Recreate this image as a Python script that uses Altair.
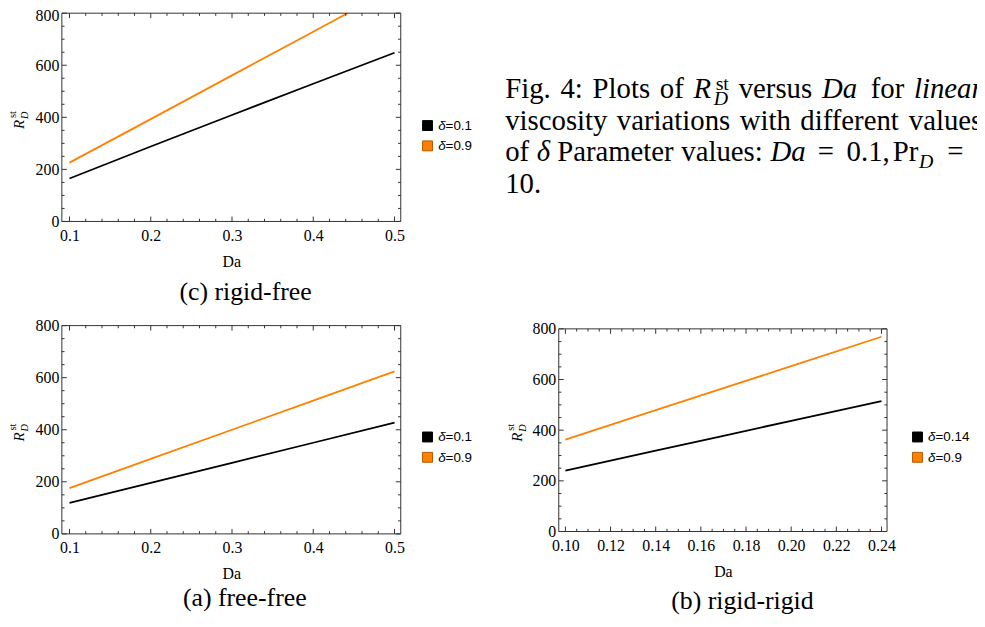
import altair as alt
import pandas as pd

# ---------------- data ----------------
c_da_black = [0.1, 0.2, 0.3, 0.4, 0.5]
c_black = [165, 288, 409, 529, 648]
c_da_orange = [0.1, 0.2, 0.3, 0.4, 0.442]
c_orange = [226, 393, 561, 729, 800]

a_da = [0.1, 0.2, 0.3, 0.4, 0.5]
a_black = [119, 196, 273, 350, 427]
a_orange = [176, 288, 400, 512, 624]

b_da = [0.10, 0.14, 0.17, 0.20, 0.24]
b_black = [240, 319, 378, 437, 515]
b_orange = [363, 479, 566, 653, 769]

x_major_ca = [0.1, 0.2, 0.3, 0.4, 0.5]
x_minor_ca = [0.12, 0.14, 0.16, 0.18, 0.22, 0.24, 0.26, 0.28, 0.32, 0.34, 0.36, 0.38,
              0.42, 0.44, 0.46, 0.48]
x_major_b = [0.10, 0.12, 0.14, 0.16, 0.18, 0.20, 0.22, 0.24]
x_minor_b = [0.105, 0.11, 0.115, 0.125, 0.13, 0.135, 0.145, 0.15, 0.155, 0.165, 0.17, 0.175,
             0.185, 0.19, 0.195, 0.205, 0.21, 0.215, 0.225, 0.23, 0.235]
y_major = [0, 200, 400, 600, 800]
y_minor = [50, 100, 150, 250, 300, 350, 450, 500, 550, 650, 700, 750]

legend_c = ["\u03b4", "=0.1", "=0.9"]
legend_a = ["\u03b4", "=0.1", "=0.9"]
legend_b = ["\u03b4", "=0.14", "=0.9"]

# ---------------- style ----------------
SERIF = "Liberation Serif"
SANS = "Liberation Sans"
FRAME = "#333333"
BLACK = "#000000"
ORANGE = "#ff8000"
W, H = 977, 611
O = 8  # page margin
CAP = 29
SUB = 20


def dom_from(p_lo, p_hi, v1, p1, v2, p2):
    k = (v2 - v1) / (p2 - p1)
    return [v1 + (p_lo - p1) * k, v1 + (p_hi - p1) * k]


panels = [
    dict(name="c", frame=(62.3, 404.0, 10.7, 220.7), ref=(0.1, 70.0, 0.5, 397.7),
         series=[(c_da_black, c_black), (c_da_orange, c_orange)],
         xmaj=x_major_ca, xmin=x_minor_ca, fmt=".1f", top_split=True),
    dict(name="a", frame=(62.3, 404.0, 325.7, 535.7), ref=(0.1, 70.0, 0.5, 397.7),
         series=[(a_da, a_black), (a_da, a_orange)],
         xmaj=x_major_ca, xmin=x_minor_ca, fmt=".1f", top_split=False),
    dict(name="b", frame=(563.3, 894.3, 329.0, 533.3), ref=(0.10, 570.0, 0.24, 888.7),
         series=[(b_da, b_black), (b_da, b_orange)],
         xmaj=x_major_b, xmin=x_minor_b, fmt=".2f", top_split=False),
]


def text(t, x, y, size=16, font=SERIF, style="normal", align="left",
         baseline="alphabetic", angle=0, color="black"):
    return alt.Chart(pd.DataFrame({"t": [t]})).mark_text(
        align=align, baseline=baseline, font=font, fontSize=size,
        fontStyle=style, angle=angle, color=color
    ).encode(text="t:N", x=alt.value(x - O), y=alt.value(y - O))


def box(x0, y0, x1, y1, fill, stroke):
    return alt.Chart(pd.DataFrame({"k": [0]})).mark_rect(
        fill=fill, stroke=stroke, strokeWidth=1
    ).encode(x=alt.value(x0 - O), x2=alt.value(x1 - O),
             y=alt.value(y0 - O), y2=alt.value(y1 - O))


AX = dict(grid=False, domain=False, ticks=False, tickSize=0,
          labelFont=SERIF, labelFontSize=16, labelColor="black",
          labelFlush=False, labelOverlap=False)

layers = []
for p in panels:
    fl, fr, ft, fb = [v - O for v in p["frame"]]
    v1, p1, v2, p2 = p["ref"]
    xdom = dom_from(p["frame"][0], p["frame"][1], v1, p1, v2, p2)
    xs = alt.Scale(domain=xdom, range=[fl, fr], nice=False, zero=False)
    ys = alt.Scale(domain=[0, 800], range=[fb, ft], nice=False, zero=False)

    rows = []
    for k, (xs_, ys_) in zip(["lo", "hi"], p["series"]):
        for xv, yv in zip(xs_, ys_):
            rows.append({"Da": xv, "R": yv, "k": k})
    df = pd.DataFrame(rows)

    xaxis = alt.Axis(orient="bottom", offset=fb - H, values=p["xmaj"], format=p["fmt"],
                     labelPadding=6, title="Da", titleFont=SERIF, titleFontSize=16,
                     titleFontWeight="normal", titleColor="black", titlePadding=10, **AX)
    yvals = y_major[:-1] if p["top_split"] else y_major
    yaxis = alt.Axis(orient="left", offset=-fl, values=yvals, format="d",
                     labelPadding=3, title=None, **AX)

    lines = alt.Chart(df).mark_line(strokeWidth=1.8).encode(
        x=alt.X("Da:Q", scale=xs, axis=xaxis),
        y=alt.Y("R:Q", scale=ys, axis=yaxis),
        color=alt.Color("k:N", scale=alt.Scale(domain=["lo", "hi"], range=[BLACK, ORANGE]),
                        legend=None),
    )
    layers.append(lines)

    if p["top_split"]:
        yaxis_top = alt.Axis(orient="left", offset=-fl, values=[800], format="d",
                             labelPadding=3, labelBaseline="top", labelOffset=-5.5,
                             title=None, **AX)
    else:
        yaxis_top = None
    frame = alt.Chart(pd.DataFrame({"x0": [xdom[0]], "x1": [xdom[1]], "y0": [0], "y1": [800]})
                      ).mark_rect(fillOpacity=0, stroke=FRAME, strokeWidth=1).encode(
        x=alt.X("x0:Q", scale=xs, axis=None), x2="x1:Q",
        y=alt.Y("y0:Q", scale=ys, axis=yaxis_top), y2="y1:Q")
    layers.append(frame)

    for vals, ln in [(p["xmaj"], 5), (p["xmin"], 2.7)]:
        d = pd.DataFrame({"v": vals})
        layers.append(alt.Chart(d).mark_rule(color=FRAME, strokeWidth=1).encode(
            x=alt.X("v:Q", scale=xs, axis=None), y=alt.value(fb), y2=alt.value(fb - ln)))
        layers.append(alt.Chart(d).mark_rule(color=FRAME, strokeWidth=1).encode(
            x=alt.X("v:Q", scale=xs, axis=None), y=alt.value(ft), y2=alt.value(ft + ln)))
    for vals, ln in [(y_major, 5), (y_minor, 2.7)]:
        d = pd.DataFrame({"v": vals})
        layers.append(alt.Chart(d).mark_rule(color=FRAME, strokeWidth=1).encode(
            y=alt.Y("v:Q", scale=ys, axis=None), x=alt.value(fl), x2=alt.value(fl + ln)))
        layers.append(alt.Chart(d).mark_rule(color=FRAME, strokeWidth=1).encode(
            y=alt.Y("v:Q", scale=ys, axis=None), x=alt.value(fr), x2=alt.value(fr - ln)))

# ---- y axis titles  R^st_D (rotated) ----
for dy, bx in [(0, 0), (315, 0), (315.3, 501.5)]:
    layers.append(text("R", 24.5 + bx, 127.5 + dy, size=15, style="italic", angle=270))
    layers.append(text("st", 16.5 + bx, 116.5 + dy, size=10.5, angle=270))
    layers.append(text("D", 28.5 + bx, 117.5 + dy, size=10.5, style="italic", angle=270))

# ---- legends ----
for (lx, ly, labels) in [(426, 119, legend_c), (426, 433, legend_a), (920, 433, legend_b)]:
    for i, (col, stk) in enumerate([(BLACK, BLACK), (ORANGE, "#b35900")]):
        yy = ly + i * 20.5
        layers.append(box(lx, yy, lx + 10, yy + 10, col, stk))
        layers.append(text(labels[0], lx + 15.7, yy + 5.5, size=13.5, font=SANS,
                           style="italic", baseline="middle"))
        layers.append(text(labels[1 + i], lx + 23.2, yy + 5.5, size=13.5, font=SANS,
                           baseline="middle"))

# ---- sub captions ----
layers.append(text("(c) rigid-free", 247.5, 299.5, size=26, align="center"))
layers.append(text("(a) free-free", 246.7, 608.5, size=26, align="center"))
layers.append(text("(b) rigid-rigid", 748.5, 611.5, size=26, align="center"))

# ---- figure caption (justified lines, cut by the right edge) ----
L = [96.7, 128.3, 160.0, 191.7]
cap = [
    ("Fig.", 509.3, L[0], "normal", CAP), ("4:", 565.0, L[0], "normal", CAP),
    ("Plots", 597.4, L[0], "normal", CAP), ("of", 665.2, L[0], "normal", CAP),
    ("R", 699.2, L[0], "italic", CAP), ("st", 721.5, L[0] - 9, "normal", SUB),
    ("D", 719.5, L[0] + 7, "italic", SUB),
    ("versus", 744.7, L[0], "normal", CAP), ("Da", 828.6, L[0], "italic", CAP),
    ("for", 877.8, L[0], "normal", CAP), ("linear", 921.4, L[0], "italic", CAP),
    ("viscosity", 509.3, L[1], "normal", CAP), ("variations", 621.9, L[1], "normal", CAP),
    ("with", 745.8, L[1], "normal", CAP), ("different", 806.9, L[1], "normal", CAP),
    ("values", 916.2, L[1], "normal", CAP),
    ("of", 509.3, L[2], "normal", CAP), ("\u03b4", 541.1, L[2], "italic", CAP),
    ("Parameter", 561.7, L[2], "normal", CAP), ("values:", 686.9, L[2], "normal", CAP),
    ("Da", 776.7, L[2], "italic", CAP), ("=", 824.5, L[2], "normal", CAP),
    ("0.1,", 853.5, L[2], "normal", CAP), ("Pr", 900.0, L[2], "normal", CAP),
    ("D", 926.5, L[2] + 7, "italic", SUB), ("=", 955.0, L[2], "normal", CAP),
    ("10.", 509.3, L[3], "normal", CAP),
]
for t, x, y, st, sz in cap:
    layers.append(text(t, x, y, size=sz, style=st))

chart = alt.layer(*layers).resolve_scale(
    x="independent", y="independent"
).properties(
    width=W, height=H, padding=0, autosize=alt.AutoSizeParams(type="none")
).configure_view(stroke=None)

chart.save("out.html", embed_options={"renderer": "svg", "actions": False})
